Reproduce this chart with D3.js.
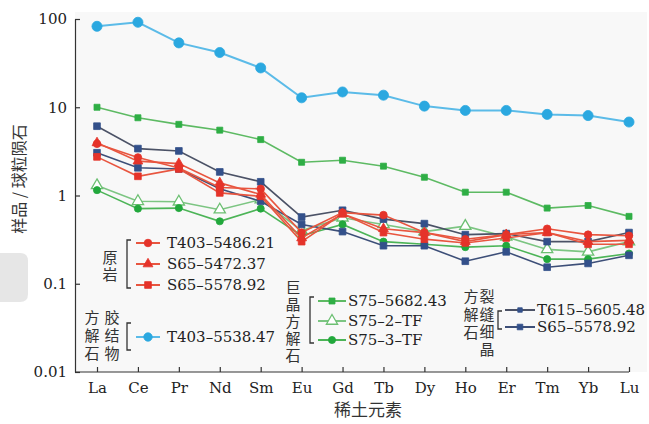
<!DOCTYPE html>
<html>
<head>
<meta charset="utf-8">
<script src="https://cdn.jsdelivr.net/npm/d3@7"></script>
<style>
body { margin: 0; background: #fff; }
svg { display: block; }
text { font-family: "DejaVu Serif", serif; fill: #222; }
.cjk { font-family: "Noto Sans CJK SC", sans-serif; fill: #333; }
.vert { writing-mode: vertical-rl; text-orientation: upright; }
</style>
</head>
<body>
<script>

// REE elements on the x axis
var elements = ["La", "Ce", "Pr", "Nd", "Sm", "Eu", "Gd", "Tb", "Dy", "Ho", "Er", "Tm", "Yb", "Lu"];
var yTicks = [0.01, 0.1, 1, 10, 100];
var yTickLabels = ["0.01", "0.1", "1", "10", "100"];

// chondrite-normalised values
var T403_5538_47 = [82.6, 91.8, 53.6, 41.7, 27.9, 12.8, 14.9, 13.7, 10.3, 9.2, 9.2, 8.3, 8.05, 6.8];
var S75_5682_43 = [10, 7.6, 6.4, 5.5, 4.3, 2.38, 2.51, 2.15, 1.61, 1.09, 1.09, 0.72, 0.77, 0.58];
var S75_2_TF = [1.30, 0.86, 0.85, 0.69, 0.90, 0.40, 0.56, 0.47, 0.39, 0.45, 0.34, 0.245, 0.23, 0.30];
var S75_3_TF = [1.15, 0.71, 0.72, 0.51, 0.71, 0.35, 0.47, 0.30, 0.28, 0.26, 0.27, 0.19, 0.19, 0.22];
var T615_5605_48 = [6.1, 3.4, 3.2, 1.85, 1.43, 0.57, 0.68, 0.54, 0.48, 0.36, 0.37, 0.30, 0.30, 0.38];
var S65_5578_92b = [3.05, 2.06, 2.0, 1.19, 0.86, 0.47, 0.39, 0.27, 0.27, 0.18, 0.23, 0.154, 0.17, 0.21];
var S65_5578_92 = [2.74, 1.65, 2.0, 1.07, 0.98, 0.30, 0.62, 0.38, 0.32, 0.29, 0.33, 0.38, 0.28, 0.28];
var S65_5472_37 = [3.95, 2.45, 2.3, 1.39, 1.03, 0.33, 0.62, 0.42, 0.38, 0.30, 0.36, 0.38, 0.30, 0.31];
var T403_5486_21 = [3.85, 2.7, 2.05, 1.23, 1.19, 0.38, 0.64, 0.60, 0.38, 0.32, 0.36, 0.42, 0.36, 0.35];

var series = [
    { name: "T403–5538.47", values: T403_5538_47, color: "#2ba8e0", line: "#5bbbe8", marker: "circle", size: 80 },
    { name: "S75–5682.43", values: S75_5682_43, color: "#2fae45", line: "#5dba63", marker: "square", size: 36 },
    { name: "S75–2–TF", values: S75_2_TF, color: "#6cbf72", line: "#7cc582", marker: "triangle", size: 55 },
    { name: "S75–3–TF", values: S75_3_TF, color: "#22a83c", line: "#4cb457", marker: "circle", size: 40 },
    { name: "T615–5605.48", values: T615_5605_48, color: "#33508a", line: "#4b5266", marker: "square", size: 45 },
    { name: "S65–5578.92", values: S65_5578_92b, color: "#33508a", line: "#3d4f78", marker: "square", size: 45 },
    { name: "S65–5578.92", values: S65_5578_92, color: "#e5332a", line: "#e8553f", marker: "square", size: 45 },
    { name: "S65–5472.37", values: S65_5472_37, color: "#e5332a", line: "#e8553f", marker: "triangle", size: 42 },
    { name: "T403–5486.21", values: T403_5486_21, color: "#e5332a", line: "#e8553f", marker: "circle", size: 45 }
];

var width = 649, height = 424;

var svg = d3.select("body").append("svg")
    .attr("width", width)
    .attr("height", height);

// scanned-page shadow at the left edge
svg.append("path")
    .attr("d", "M0,253 H20 Q28,253 28,261 V294 Q28,302 20,302 H0 Z")
    .attr("fill", "#e6e6e6");

// faint plot background
svg.append("rect")
    .attr("x", 75).attr("y", 12)
    .attr("width", 572).attr("height", 360)
    .attr("fill", "#f8f8f8");

var x = d3.scalePoint()
    .domain(elements)
    .range([97, 629]);

var y = d3.scaleLog()
    .domain([0.01, 100])
    .range([372, 19]);

// y axis
var yAxis = d3.axisLeft(y)
    .tickValues(yTicks)
    .tickFormat(function (d, i) { return yTickLabels[i]; })
    .tickSizeInner(-5)
    .tickSizeOuter(0)
    .tickPadding(8);

var gy = svg.append("g")
    .attr("transform", "translate(75,0)")
    .call(yAxis);
gy.selectAll("text").style("font-size", "15px").style("font-family", "DejaVu Serif");
gy.selectAll("line, path").attr("stroke", "#333").attr("stroke-width", 1.2);

// x axis
var xAxis = d3.axisBottom(x)
    .tickSizeInner(-5)
    .tickSizeOuter(0)
    .tickPadding(10);

var gx = svg.append("g")
    .attr("transform", "translate(0,372)")
    .call(xAxis);
gx.select(".domain").attr("d", "M75,0H629");
gx.selectAll("text").style("font-size", "15px").style("font-family", "DejaVu Serif");
gx.selectAll("line, path").attr("stroke", "#333").attr("stroke-width", 1.2);

// axis titles
svg.append("text")
    .attr("class", "cjk")
    .attr("transform", "translate(25,179) rotate(-90)")
    .attr("text-anchor", "middle")
    .style("font-size", "16px")
    .text("样品 / 球粒陨石");

svg.append("text")
    .attr("class", "cjk")
    .attr("x", 368).attr("y", 416)
    .attr("text-anchor", "middle")
    .style("font-size", "17px")
    .text("稀土元素");

// marker helper
function drawMarker(g, s, cx, cy, scale) {
    var type = s.marker == "circle" ? d3.symbolCircle
        : s.marker == "square" ? d3.symbolSquare : d3.symbolTriangle;
    var open = s.marker == "triangle" && s.color != "#e5332a";
    g.append("path")
        .attr("d", d3.symbol().type(type).size(s.size * (scale || 1))())
        .attr("transform", "translate(" + cx + "," + cy + ")")
        .attr("fill", open ? "#fff" : s.color)
        .attr("stroke", s.color)
        .attr("stroke-width", open ? 1.3 : 0.8);
}

var line = d3.line()
    .x(function (d, i) { return x(elements[i]); })
    .y(function (d) { return y(d); });

series.forEach(function (s) {
    var g = svg.append("g");
    g.append("path")
        .attr("d", line(s.values))
        .attr("fill", "none")
        .attr("stroke", s.line)
        .attr("stroke-width", s.marker == "circle" && s.size > 60 ? 2 : 1.6);
    s.values.forEach(function (v, i) {
        drawMarker(g, s, x(elements[i]), y(v));
    });
});

// legends
function bracket(bx, y1, y2) {
    svg.append("path")
        .attr("d", "M" + (bx + 4) + "," + y1 + "H" + bx + "V" + y2 + "H" + (bx + 4))
        .attr("fill", "none")
        .attr("stroke", "#333")
        .attr("stroke-width", 1.3);
}

// vertical CJK column, (cx, top) = centre line and top edge
function column(cx, top, chars, step) {
    svg.append("text")
        .attr("class", "cjk vert")
        .attr("x", cx).attr("y", top)
        .style("font-size", "15px")
        .style("letter-spacing", (step - 15) + "px")
        .text(chars);
}

function legendItem(s, x1, x2, ty, tx, scale) {
    var g = svg.append("g");
    g.append("line")
        .attr("x1", x1).attr("x2", x2)
        .attr("y1", ty).attr("y2", ty)
        .attr("stroke", s.line)
        .attr("stroke-width", 2);
    drawMarker(g, s, (x1 + x2) / 2, ty, scale);
    g.append("text")
        .attr("x", tx).attr("y", ty)
        .attr("dy", "0.36em")
        .style("font-size", "15px")
        .text(s.name);
}

// 原岩
column(110, 250, "原岩", 17);
bracket(127, 240, 288);
legendItem(series[8], 136, 160, 243, 167);
legendItem(series[7], 136, 160, 264, 167);
legendItem(series[6], 136, 160, 285, 167);

// 胶结物方解石
column(112, 310, "胶结物", 18);
column(92, 310, "方解石", 18);
bracket(127, 323, 350);
legendItem(series[0], 136, 160, 337, 167, 0.7);

// 巨晶方解石
column(293, 280, "巨晶方解石", 17);
bracket(310, 297, 343);
legendItem(series[1], 318, 346, 301, 348);
legendItem(series[2], 318, 346, 321, 348);
legendItem(series[3], 318, 346, 340, 348);

// 裂缝细晶方解石
column(487, 289, "裂缝细晶", 17.5);
column(471, 289, "方解石", 18);
bracket(498, 311, 329);
legendItem(series[4], 505, 535, 310, 537, 0.45);
legendItem(series[5], 505, 535, 327, 537, 0.7);

</script>
</body>
</html>
